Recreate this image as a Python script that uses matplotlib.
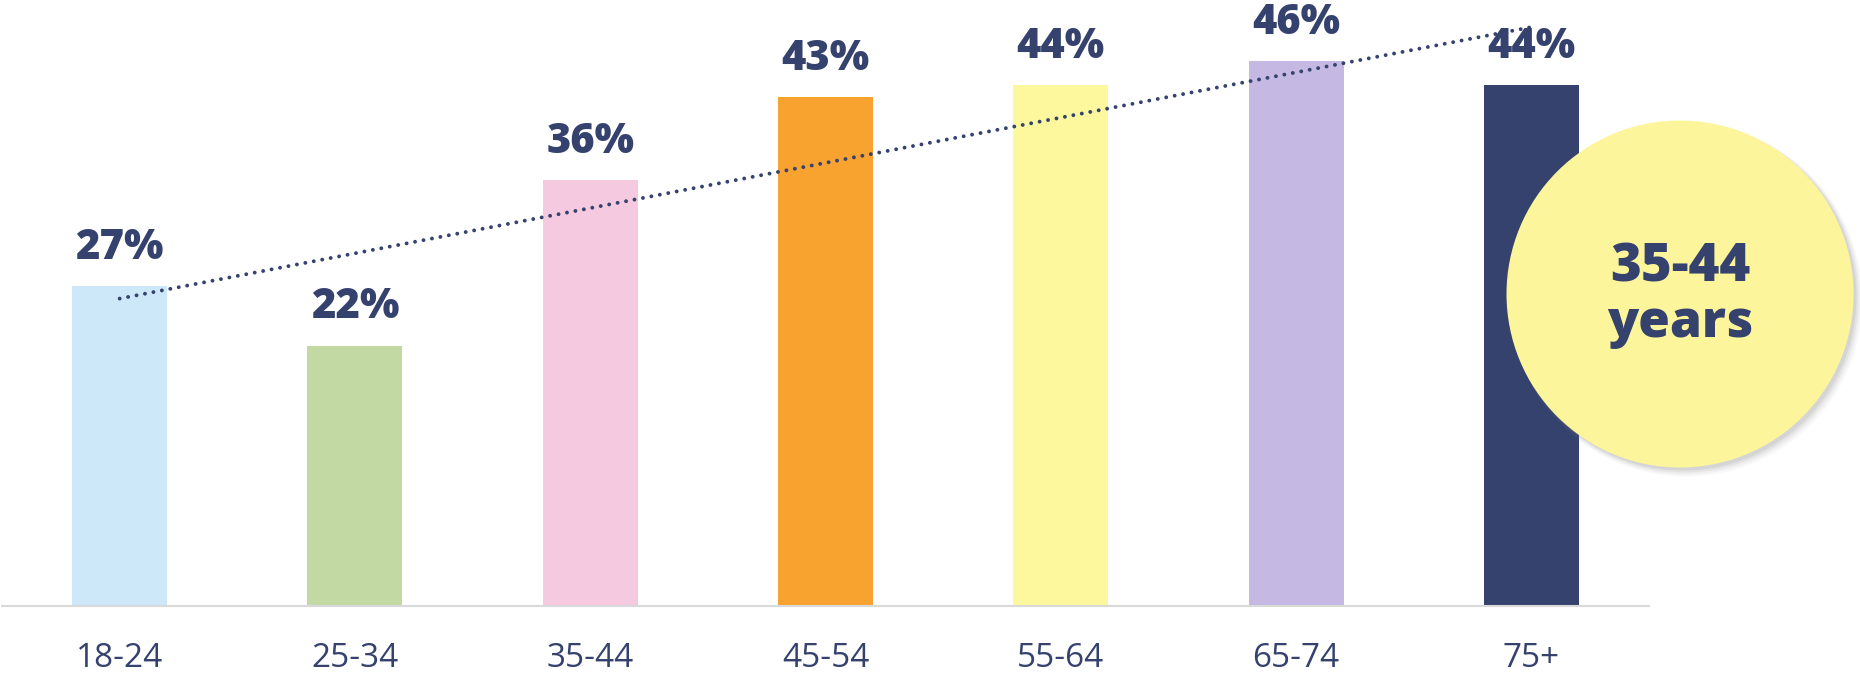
import numpy as np
import matplotlib.pyplot as plt
from matplotlib.patches import Circle

# data
ages = ['18-24', '25-34', '35-44', '45-54', '55-64', '65-74', '75+']
values = [27, 22, 36, 43, 44, 46, 44]
colors = ['#CDE8F9', '#C2D9A4', '#F5C9DF', '#F8A230', '#FDF89D', '#C5B9E3', '#35426E']
navy = '#35426E'
highlight = ['35-44', 'years']

plt.rcParams['font.family'] = ['Open Sans', 'DejaVu Sans']

fig = plt.figure(figsize=(18.6, 6.73), dpi=100)
ax = fig.add_axes([2 / 1860, 67 / 673, 1647 / 1860, 606 / 673])

x = np.arange(len(ages))
ax.bar(x, values, width=0.404, color=colors, zorder=2)

# linear trend line (dotted)
k, b = np.polyfit(x, values, 1)
ax.plot([x[0], x[-1]], [b + k * x[0], b + k * x[-1]], color=navy, lw=2.8,
        linestyle=(0, (0.01, 2.2)), dash_capstyle='round', zorder=3)

# value labels
for xi, v in zip(x, values):
    ax.annotate('{}%'.format(v), (xi, v), xytext=(0, 19.5), textcoords='offset points',
                ha='center', va='baseline', fontsize=30, fontweight=800, color=navy, zorder=4)

ax.set_xlim(-0.5, 6.5)
ax.set_ylim(0, 606 / 11.84)
ax.set_xticks(x)
ax.set_xticklabels(ages, fontsize=24, color=navy)
ax.tick_params(axis='x', length=0, pad=26)
ax.set_yticks([])
for s in ['top', 'left', 'right']:
    ax.spines[s].set_visible(False)
ax.spines['bottom'].set_color('#D9D9D9')
ax.spines['bottom'].set_linewidth(1.5)

# yellow circle with soft shadow
tr = fig.dpi_scale_trans
cx, cy, r = 16.80, (673 - 294) / 100, 1.735
for i, a in enumerate([0.05, 0.07, 0.1, 0.14]):
    off = 0.06 - i * 0.01
    sh = Circle((cx + off, cy - off), r + 0.01 * (3 - i), transform=tr, color='#808080',
                alpha=a, lw=0, clip_on=False, zorder=5)
    ax.add_patch(sh)
ax.add_patch(Circle((cx, cy), r, transform=tr, color='#FDF59B', lw=0, clip_on=False, zorder=6))
ax.text(cx, (673 - 282) / 100, highlight[0], transform=tr, ha='center', va='baseline',
        fontsize=38, fontweight=800, color=navy, zorder=7)
ax.text(cx, (673 - 337) / 100, highlight[1], transform=tr, ha='center', va='baseline',
        fontsize=37, fontweight=800, color=navy, zorder=7)

plt.savefig('out.png', dpi=100)
